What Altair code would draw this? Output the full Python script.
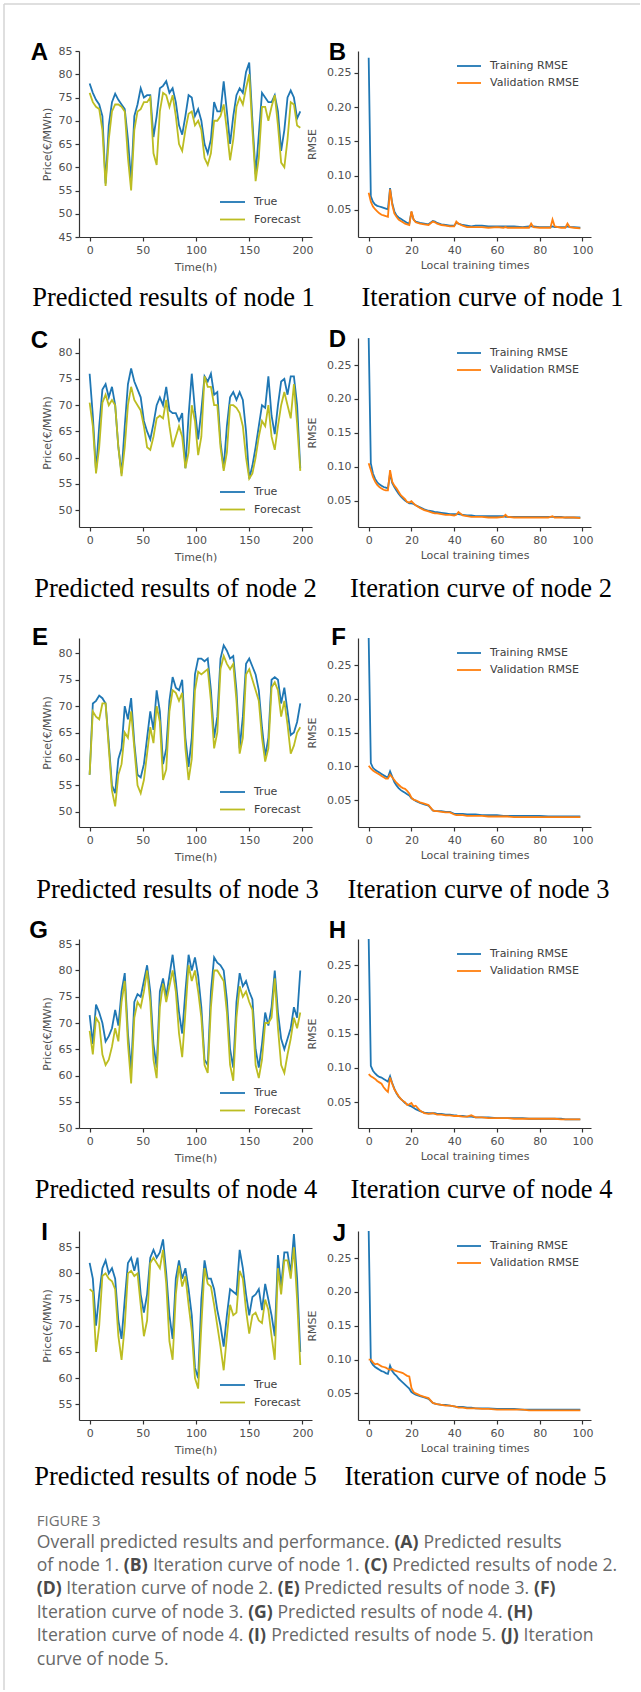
import altair as alt
import pandas as pd

# ---------------- data ----------------
HOURS = [0, 3, 6, 9, 12, 15, 18, 21, 24, 27, 30, 33, 36, 39, 42, 45, 48, 51, 54, 57,
         60, 63, 66, 69, 72, 75, 78, 81, 84, 87, 90, 93, 96, 99, 102, 105, 108, 111, 114, 117,
         120, 123, 126, 129, 132, 135, 138, 141, 144, 147, 150, 153, 156, 159, 162, 165, 168, 171, 174, 177,
         180, 183, 186, 189, 192, 195, 198]

A_TRUE = [78, 76, 74.5, 73.5, 71, 56.5, 69, 74, 75.8, 74.5,
          73.5, 72.5, 66, 57, 71, 73.5, 77, 75, 75.5, 75.5,
          66.5, 71, 77, 77.5, 78.5, 76, 77, 74, 69, 67,
          71, 75.5, 75, 71, 72.5, 70, 65, 63, 66, 74,
          72, 72, 78.5, 72, 65, 71, 75.5, 77, 76, 80.5,
          82.5, 70, 58.5, 67, 76, 75, 74, 74, 75.5, 72,
          63.5, 68, 75, 76.5, 75, 70.5, 72]
A_FC = [76, 74, 73, 72.5, 68, 56, 66, 72, 73.5, 73.5,
        73, 72, 62, 55, 68, 72, 72.5, 74, 74, 75,
        63, 60.5, 72, 76, 75.5, 73, 75.5, 71, 65, 63.5,
        68, 71.5, 72, 69, 70, 68, 62, 60.5, 63, 70,
        70, 71, 73.5, 68, 61.5, 66, 73, 75, 73.5, 77,
        80, 68, 57, 62, 73, 73, 70, 73, 75.5, 69,
        61, 60, 66, 74, 73.5, 69, 68.5]

C_TRUE = [76, 68, 57.5, 66, 73, 74, 71.5, 73.5, 70, 62,
          57, 66, 74, 77, 74.5, 73, 71.5, 67, 65, 63.5,
          66.5, 70, 71.5, 70, 73.5, 69, 68.5, 68.5, 67, 68.5,
          58, 68, 76, 69, 63.5, 69, 75.5, 74.5, 76, 72,
          72.5, 63, 58, 66, 71.5, 72.5, 71, 72.5, 71, 65,
          56, 58.5, 62, 66, 70, 69.5, 75.5, 68, 64.5, 70,
          74.5, 75, 72, 75.5, 75.5, 70, 58]
C_FC = [70.5, 66, 57, 62, 70.5, 72, 70, 71, 70, 62,
        56.5, 62, 70, 73.5, 71, 70, 69, 66, 62, 61.5,
        64, 67.5, 68, 67.5, 71, 66, 62, 64, 66, 64,
        58, 61, 70, 67, 60.5, 64, 75.5, 73.5, 73.5, 70,
        70, 62, 57.5, 61, 70, 70, 69.5, 68.5, 66, 60,
        56, 57, 60, 64, 67, 66, 70, 64, 61.5, 66,
        70, 72.5, 70, 67.5, 74, 66.5, 57.5]

E_TRUE = [57, 70.5, 71, 72, 71.5, 70.5, 63, 55, 53.5, 60,
          62, 70, 67.5, 71.5, 63, 57, 56.5, 59, 64, 69,
          65.5, 73, 69, 59, 62, 71, 75.5, 73.5, 73, 75,
          64, 58.5, 64, 76, 79, 79, 78.5, 79, 73, 64,
          68, 79, 81.5, 80.5, 79, 79.5, 73, 62, 68, 78,
          79, 77.5, 76, 73, 66, 60.5, 64, 75, 75.5, 75,
          70.5, 73.5, 69, 64.5, 65, 67, 70.5]
E_FC = [57, 69, 68, 67.5, 70.5, 70.5, 62, 54, 51, 57,
        59, 65, 64, 69, 62, 55, 53.5, 56, 61, 66,
        63, 70, 67, 56, 58, 69, 73, 72.5, 71, 72.5,
        62, 56, 60, 73, 76.5, 76, 76.5, 77, 71, 62,
        65, 77, 79.5, 78, 77, 78, 71, 61, 64, 76,
        77, 75, 73, 71, 64, 59.5, 62, 73.5, 74.5, 73,
        68, 71, 66.5, 61, 62.5, 65, 66]

G_TRUE = [71.5, 66, 73.5, 72, 70, 66.5, 67.5, 69, 72.5, 69.5,
          76, 79.5, 68, 61, 74, 75.5, 75, 78, 81, 76,
          66, 61.5, 76, 78.5, 75, 79, 83, 78, 72, 68,
          76, 83, 80, 82.5, 79, 73, 63, 62, 76, 82.5,
          81.5, 81, 80, 74.5, 65, 61.5, 74, 79.5, 77, 78,
          76, 74.5, 65, 61.5, 66, 72, 69.5, 73, 80, 72,
          67, 65, 67, 69, 73, 71, 80]
G_FC = [68.5, 64, 71, 70, 64, 62, 63, 65.5, 69, 66.5,
        74, 78, 66, 58.5, 71, 74, 73, 76, 80, 74,
        63, 59.5, 73, 77.5, 74, 77, 80, 76, 68, 63.5,
        72, 81, 78, 80, 76, 71, 62, 60.5, 73, 80,
        80, 79, 78, 72, 62, 59, 71, 77, 75, 76,
        74, 72.5, 62, 59.5, 63, 70, 70, 71, 78.5, 69,
        62, 60.5, 64, 67, 71, 69, 72]

I_TRUE = [82, 79, 70, 76, 81, 82.5, 80, 81, 79, 71,
          67.5, 75, 82, 83, 80.5, 83, 76, 72.5, 76, 83,
          84.5, 83, 84, 86.5, 80, 72, 67.5, 79, 82.5, 79,
          81, 77, 72, 62, 60, 75, 82.5, 79, 79, 77,
          73, 70, 66, 72, 77, 76.5, 76, 84.5, 81, 76,
          72, 75.5, 76, 77, 73, 78, 75, 72, 68, 83.5,
          77.5, 84, 84, 80, 87.5, 79, 65]
I_FC = [77, 76.5, 65, 70, 79.5, 80, 79, 78.5, 77, 68,
        63.5, 70, 80, 80.5, 79.5, 80, 74, 68, 71, 82,
        83, 82, 81, 84.5, 78, 67, 63.5, 76, 81.5, 77.5,
        79.5, 74, 69, 60, 58, 70, 81, 78, 77.5, 74,
        70, 66, 61.5, 68, 74, 72, 72.5, 80.5, 79, 73,
        68.5, 72, 72.5, 71, 70.5, 75, 73, 68, 63.5, 81,
        76, 82.5, 82.5, 79, 85, 75, 62.5]

EPOCHS = [0, 1, 2, 3, 4, 5, 6, 7, 8, 9, 10, 11, 12, 13, 14, 15, 16, 17, 18, 19, 20, 21, 22,
          24, 26, 28, 30, 31, 32, 34, 36, 38, 40, 41, 42, 44, 46, 48, 50, 53, 56,
          60, 63, 64, 65, 68, 72, 75, 76, 77, 80, 84, 85, 86, 87, 90, 92, 93, 94, 96, 99]

B_TRAIN = [0.272, 0.070, 0.062, 0.058, 0.056, 0.055, 0.054, 0.053, 0.052, 0.051,
           0.082, 0.060, 0.048, 0.042, 0.039, 0.037, 0.035, 0.033, 0.031, 0.030,
           0.047, 0.036, 0.033, 0.031, 0.030, 0.029, 0.034, 0.033, 0.031, 0.029, 0.028, 0.027,
           0.027, 0.031, 0.030, 0.028, 0.027, 0.026, 0.027, 0.027, 0.026,
           0.026, 0.026, 0.026, 0.026, 0.026, 0.025, 0.026, 0.026, 0.026,
           0.025, 0.025, 0.025, 0.026, 0.025, 0.025, 0.025, 0.026, 0.025, 0.025, 0.024]
B_VAL = [0.075, 0.062, 0.055, 0.051, 0.048, 0.045, 0.043, 0.042, 0.041, 0.040,
         0.080, 0.058, 0.045, 0.040, 0.036, 0.034, 0.032, 0.030, 0.029, 0.028,
         0.048, 0.036, 0.032, 0.030, 0.029, 0.028, 0.033, 0.032, 0.030, 0.028, 0.027, 0.026,
         0.026, 0.033, 0.030, 0.027, 0.025, 0.025, 0.025, 0.025, 0.024,
         0.025, 0.024, 0.025, 0.024, 0.024, 0.024, 0.024, 0.030, 0.025,
         0.024, 0.024, 0.024, 0.036, 0.026, 0.024, 0.024, 0.030, 0.025, 0.024, 0.023]

D_TRAIN = [0.290, 0.105, 0.090, 0.082, 0.077, 0.074, 0.072, 0.070, 0.069, 0.068,
           0.090, 0.076, 0.070, 0.065, 0.060, 0.056, 0.053, 0.050, 0.048, 0.046,
           0.046, 0.045, 0.043, 0.040, 0.037, 0.035, 0.034, 0.033, 0.033, 0.032, 0.031, 0.030,
           0.030, 0.030, 0.030, 0.029, 0.028, 0.028, 0.027, 0.027, 0.027,
           0.027, 0.027, 0.026, 0.026, 0.026, 0.026, 0.026, 0.026, 0.026,
           0.026, 0.026, 0.026, 0.026, 0.026, 0.026, 0.025, 0.025, 0.025, 0.025, 0.025]
D_VAL = [0.105, 0.095, 0.085, 0.078, 0.073, 0.070, 0.068, 0.066, 0.065, 0.065,
         0.095, 0.078, 0.072, 0.068, 0.063, 0.058, 0.055, 0.052, 0.048, 0.047,
         0.049, 0.046, 0.043, 0.039, 0.036, 0.034, 0.032, 0.031, 0.031, 0.030, 0.029, 0.029,
         0.028, 0.029, 0.033, 0.028, 0.027, 0.026, 0.026, 0.026, 0.025,
         0.025, 0.026, 0.029, 0.026, 0.025, 0.025, 0.025, 0.025, 0.025,
         0.025, 0.025, 0.026, 0.027, 0.025, 0.025, 0.025, 0.025, 0.025, 0.025, 0.024]

F_TRAIN = [0.290, 0.105, 0.098, 0.095, 0.093, 0.091, 0.089, 0.087, 0.085, 0.084,
           0.093, 0.085, 0.077, 0.072, 0.068, 0.065, 0.063, 0.061, 0.059, 0.057,
           0.053, 0.051, 0.049, 0.046, 0.044, 0.042, 0.035, 0.034, 0.034, 0.034, 0.033, 0.033,
           0.030, 0.030, 0.030, 0.030, 0.029, 0.029, 0.029, 0.028, 0.028,
           0.028, 0.027, 0.027, 0.027, 0.027, 0.027, 0.027, 0.027, 0.027,
           0.027, 0.026, 0.026, 0.026, 0.026, 0.026, 0.026, 0.026, 0.026, 0.026, 0.026]
F_VAL = [0.101, 0.097, 0.094, 0.092, 0.090, 0.088, 0.086, 0.084, 0.082, 0.082,
         0.088, 0.084, 0.080, 0.076, 0.073, 0.070, 0.068, 0.067, 0.064, 0.060,
         0.054, 0.051, 0.050, 0.047, 0.045, 0.043, 0.035, 0.034, 0.034, 0.033, 0.032, 0.032,
         0.029, 0.028, 0.028, 0.028, 0.027, 0.027, 0.027, 0.027, 0.026,
         0.026, 0.026, 0.026, 0.026, 0.025, 0.025, 0.025, 0.025, 0.025,
         0.025, 0.025, 0.025, 0.025, 0.025, 0.025, 0.025, 0.025, 0.025, 0.025, 0.025]

H_TRAIN = [0.288, 0.103, 0.096, 0.092, 0.089, 0.087, 0.086, 0.084, 0.082, 0.080,
           0.088, 0.078, 0.070, 0.063, 0.058, 0.055, 0.052, 0.049, 0.047, 0.045,
           0.044, 0.042, 0.040, 0.037, 0.035, 0.034, 0.034, 0.034, 0.033, 0.033, 0.032, 0.032,
           0.031, 0.031, 0.030, 0.030, 0.029, 0.029, 0.028, 0.028, 0.028,
           0.027, 0.027, 0.027, 0.027, 0.027, 0.027, 0.026, 0.026, 0.026,
           0.026, 0.026, 0.026, 0.026, 0.026, 0.026, 0.025, 0.025, 0.025, 0.025, 0.025]
H_VAL = [0.091, 0.088, 0.086, 0.084, 0.081, 0.079, 0.077, 0.072, 0.068, 0.065,
         0.086, 0.077, 0.069, 0.064, 0.059, 0.055, 0.052, 0.050, 0.046, 0.047,
         0.049, 0.044, 0.045, 0.038, 0.034, 0.033, 0.034, 0.033, 0.032, 0.032, 0.031, 0.031,
         0.030, 0.030, 0.030, 0.029, 0.029, 0.031, 0.028, 0.028, 0.027,
         0.027, 0.027, 0.027, 0.027, 0.026, 0.026, 0.026, 0.026, 0.026,
         0.026, 0.026, 0.026, 0.026, 0.026, 0.025, 0.025, 0.025, 0.025, 0.025, 0.025]

J_TRAIN = [0.290, 0.097, 0.092, 0.089, 0.087, 0.085, 0.083, 0.082, 0.080, 0.079,
           0.091, 0.083, 0.079, 0.076, 0.072, 0.069, 0.066, 0.063, 0.060, 0.057,
           0.052, 0.050, 0.048, 0.046, 0.044, 0.042, 0.036, 0.035, 0.034, 0.033, 0.033, 0.032,
           0.031, 0.030, 0.030, 0.030, 0.029, 0.029, 0.028, 0.028, 0.028,
           0.027, 0.027, 0.027, 0.027, 0.027, 0.026, 0.026, 0.026, 0.026,
           0.026, 0.026, 0.026, 0.026, 0.026, 0.026, 0.026, 0.026, 0.026, 0.026, 0.026]
J_VAL = [0.100, 0.100, 0.096, 0.093, 0.094, 0.092, 0.090, 0.089, 0.088, 0.086,
         0.085, 0.086, 0.084, 0.083, 0.082, 0.081, 0.080, 0.078, 0.076, 0.075,
         0.058, 0.052, 0.050, 0.047, 0.045, 0.043, 0.036, 0.035, 0.034, 0.033, 0.032, 0.032,
         0.031, 0.030, 0.029, 0.029, 0.028, 0.028, 0.028, 0.027, 0.027,
         0.026, 0.026, 0.026, 0.026, 0.026, 0.026, 0.025, 0.025, 0.025,
         0.025, 0.025, 0.025, 0.025, 0.025, 0.025, 0.025, 0.025, 0.025, 0.025, 0.025]

PRICE_TICKS = [[45, 50, 55, 60, 65, 70, 75, 80, 85],
               [50, 55, 60, 65, 70, 75, 80],
               [50, 55, 60, 65, 70, 75, 80],
               [50, 55, 60, 65, 70, 75, 80, 85],
               [55, 60, 65, 70, 75, 80, 85]]
PRICE_DOMAINS = [[45, 85], [46.8, 82.8], [47.1, 82.9], [50, 86], [52, 88.1]]
RMSE_DOMAINS = [[0.0105, 0.282], [0.011, 0.29], [0.0105, 0.29], [0.0125, 0.288], [0.0107, 0.29]]
RMSE_TICKS = [0.05, 0.10, 0.15, 0.20, 0.25]
TIME_TICKS = [0, 50, 100, 150, 200]
EPOCH_TICKS = [0, 20, 40, 60, 80, 100]

LEFT_LETTERS = ["A", "C", "E", "G", "I"]
RIGHT_LETTERS = ["B", "D", "F", "H", "J"]
LEFT_CAPTIONS = ["Predicted results of node 1", "Predicted results of node 2",
                 "Predicted results of node 3", "Predicted results of node 4",
                 "Predicted results of node 5"]
RIGHT_CAPTIONS = ["Iteration curve of node 1", "Iteration curve of node 2",
                  "Iteration curve of node 3", "Iteration curve of node 4",
                  "Iteration curve of node 5"]

CAPTION_TITLE = "FIGURE 3"
# (text, bold?) segments of each caption line
CAPTION_LINES = [
    [("Overall predicted results and performance.", False), ("(A)", True), ("Predicted results", False)],
    [("of node 1.", False), ("(B)", True), ("Iteration curve of node 1.", False),
     ("(C)", True), ("Predicted results of node 2.", False)],
    [("(D)", True), ("Iteration curve of node 2.", False), ("(E)", True),
     ("Predicted results of node 3.", False), ("(F)", True)],
    [("Iteration curve of node 3.", False), ("(G)", True),
     ("Predicted results of node 4.", False), ("(H)", True)],
    [("Iteration curve of node 4.", False), ("(I)", True),
     ("Predicted results of node 5.", False), ("(J)", True), ("Iteration", False)],
    [("curve of node 5.", False)],
]

# ---------------- layout / style ----------------
BLUE = "#1f77b4"
OLIVE = "#bcbd22"
ORANGE = "#ff7f0e"
AX_FONT = "DejaVu Sans"
AX_COLOR = "#333333"
LAB_COLOR = "#505050"
LINE_W = 1.8

LEFT_X0 = 79
LEFT_W = 233
MID_W = 46
RIGHT_X0 = LEFT_X0 + LEFT_W + MID_W  # 358
RIGHT_W = 233
ROW_TOPS = [51, 338, 638, 939, 1231]
ROW_H = [186, 189, 189, 189, 189]
LEFT_LETTER_Y = [60, 348, 645, 938, 1240]
RIGHT_LETTER_Y = [60, 347, 645, 938, 1241]
LEFT_CAP_X = [173.5, 175.5, 177.5, 176, 175.5]
RIGHT_CAP_X = [492.5, 481, 478.5, 481.5, 475.5]
CAP_Y = [306, 597, 898, 1198, 1485]
CAPTION_LINE_Y = [1543, 1566, 1589, 1612.5, 1636, 1660]
CAPTION_X0 = 36.7
CAPTION_SIZE = 17.6

# approximate Open Sans advance widths (em) for laying out caption segments
OS_REG = {" ": 0.26, ".": 0.266, "(": 0.296, ")": 0.296, "1": 0.572, "2": 0.572, "3": 0.572,
          "4": 0.572, "5": 0.572, "O": 0.779, "P": 0.603, "I": 0.279,
          "a": 0.556, "c": 0.476, "d": 0.613, "e": 0.561, "f": 0.339, "i": 0.253, "l": 0.253,
          "m": 0.930, "n": 0.614, "o": 0.604, "p": 0.613, "r": 0.408, "s": 0.477, "t": 0.353,
          "u": 0.614, "v": 0.501}
OS_BOLD = {"(": 0.339, ")": 0.339, "A": 0.711, "B": 0.712, "C": 0.642, "D": 0.748, "E": 0.556,
           "F": 0.537, "G": 0.731, "H": 0.779, "I": 0.371, "J": 0.343}


def text_width(s, bold):
    table = OS_BOLD if bold else OS_REG
    return sum(table.get(ch, OS_REG.get(ch, 0.55)) for ch in s) * CAPTION_SIZE


dummy = pd.DataFrame({"d": [0]})


def txt(text, x, y, size, font, color="#000000", weight="normal", align="left", baseline="alphabetic"):
    return alt.Chart(dummy).mark_text(
        text=text, font=font, fontSize=size, color=color, fontWeight=weight,
        align=align, baseline=baseline,
    ).encode(x=alt.value(x), y=alt.value(y))


def hrule(x1, x2, y, color, width=LINE_W):
    return alt.Chart(dummy).mark_rule(color=color, strokeWidth=width).encode(
        x=alt.value(x1), x2=alt.value(x2), y=alt.value(y))


def vrule(x, y1, y2, color, width=LINE_W):
    return alt.Chart(dummy).mark_rule(color=color, strokeWidth=width).encode(
        x=alt.value(x), y=alt.value(y1), y2=alt.value(y2))


def spacer(w, h, extra=None):
    base = alt.Chart(dummy).mark_rule(opacity=0).encode(x=alt.value(w / 2.0))
    if extra:
        return alt.layer(base, *extra).properties(width=w, height=h)
    return base.properties(width=w, height=h)


def x_axis(values, title, w, fmt, ty):
    return alt.Axis(values=values, title=title, format=fmt, grid=False,
                    labelFont=AX_FONT, labelFontSize=11, labelColor=LAB_COLOR, labelPadding=3,
                    labelFlush=False, labelOverlap=False,
                    tickSize=4, tickColor=AX_COLOR, tickWidth=1.2,
                    domainColor=AX_COLOR, domainWidth=1.2,
                    titleFont=AX_FONT, titleFontSize=11, titleFontWeight="normal", titleColor=LAB_COLOR,
                    titleX=w / 2.0, titleY=ty, titleAlign="center", titleBaseline="middle")


def y_axis(values, title, h, fmt, tx):
    return alt.Axis(values=values, title=title, format=fmt, grid=False,
                    labelFont=AX_FONT, labelFontSize=11, labelColor=LAB_COLOR, labelPadding=3,
                    labelFlush=False, labelOverlap=False,
                    tickSize=4, tickColor=AX_COLOR, tickWidth=1.2,
                    domainColor=AX_COLOR, domainWidth=1.2,
                    titleFont=AX_FONT, titleFontSize=11, titleFontWeight="normal", titleColor=LAB_COLOR,
                    titleX=tx, titleY=h / 2.0, titleAngle=270, titleAlign="center", titleBaseline="middle")


def line(xv, yv, color, xs, ys, xa, ya):
    df = pd.DataFrame({"x": xv, "y": yv})
    return alt.Chart(df).mark_line(color=color, strokeWidth=LINE_W, clip=True).encode(
        x=alt.X("x:Q", scale=xs, axis=xa), y=alt.Y("y:Q", scale=ys, axis=ya))


def price_panel(r, true_v, fc_v):
    h = ROW_H[r]
    top = ROW_TOPS[r]
    xs = alt.Scale(domain=[-10, 209], nice=False, zero=False)
    ys = alt.Scale(domain=PRICE_DOMAINS[r], nice=False, zero=False)
    xa = x_axis(TIME_TICKS, "Time(h)", LEFT_W, "d", 30)
    ya = y_axis(PRICE_TICKS[r], "Price(€/MWh)", h, "d", 47 - LEFT_X0)
    layers = [
        line(HOURS, true_v, BLUE, xs, ys, xa, ya),
        line(HOURS, fc_v, OLIVE, xs, ys, xa, ya),
        hrule(220 - LEFT_X0, 245 - LEFT_X0, h - 35, BLUE),
        hrule(220 - LEFT_X0, 245 - LEFT_X0, h - 17.5, OLIVE),
        txt("True", 254 - LEFT_X0, h - 35, 11, AX_FONT, "#404040", baseline="middle"),
        txt("Forecast", 254 - LEFT_X0, h - 17.5, 11, AX_FONT, "#404040", baseline="middle"),
        txt(LEFT_LETTERS[r], 48 - LEFT_X0, LEFT_LETTER_Y[r] - top, 24, "Liberation Sans",
            weight="bold", align="right"),
        txt(LEFT_CAPTIONS[r], LEFT_CAP_X[r] - LEFT_X0, CAP_Y[r] - top, 26.5, "Liberation Serif",
            align="center"),
    ]
    return alt.layer(*layers).properties(width=LEFT_W, height=h)


def rmse_panel(r, train_v, val_v):
    h = ROW_H[r]
    top = ROW_TOPS[r]
    xs = alt.Scale(domain=[-5, 104], nice=False, zero=False)
    ys = alt.Scale(domain=RMSE_DOMAINS[r], nice=False, zero=False)
    xa = x_axis(EPOCH_TICKS, "Local training times", RIGHT_W, "d", 28)
    ya = y_axis(RMSE_TICKS, "RMSE", h, ".2f", 312 - RIGHT_X0)
    layers = [
        line(EPOCHS, train_v, BLUE, xs, ys, xa, ya),
        line(EPOCHS, val_v, ORANGE, xs, ys, xa, ya),
        hrule(457 - RIGHT_X0, 481 - RIGHT_X0, 15, BLUE),
        hrule(457 - RIGHT_X0, 481 - RIGHT_X0, 32, ORANGE),
        txt("Training RMSE", 490 - RIGHT_X0, 15, 11, AX_FONT, "#404040", baseline="middle"),
        txt("Validation RMSE", 490 - RIGHT_X0, 32, 11, AX_FONT, "#404040", baseline="middle"),
        txt(RIGHT_LETTERS[r], 346 - RIGHT_X0, RIGHT_LETTER_Y[r] - top, 24, "Liberation Sans",
            weight="bold", align="right"),
        txt(RIGHT_CAPTIONS[r], RIGHT_CAP_X[r] - RIGHT_X0, CAP_Y[r] - top, 26.5, "Liberation Serif",
            align="center"),
    ]
    return alt.layer(*layers).properties(width=RIGHT_W, height=h)


PRICE_SERIES = [(A_TRUE, A_FC), (C_TRUE, C_FC), (E_TRUE, E_FC), (G_TRUE, G_FC), (I_TRUE, I_FC)]
RMSE_SERIES = [(B_TRAIN, B_VAL), (D_TRAIN, D_VAL), (F_TRAIN, F_VAL), (H_TRAIN, H_VAL), (J_TRAIN, J_VAL)]

BORDER = "#d4d4d4"
items = []
# top spacer row (carries the page border)
items += [spacer(LEFT_X0, ROW_TOPS[0], [vrule(4, 4, 1690, BORDER, 1.5), hrule(4, 640, 4, BORDER, 1.5)]),
          spacer(1, 1), spacer(1, 1), spacer(1, 1)]
for r in range(5):
    h = ROW_H[r]
    items += [spacer(LEFT_X0, h), price_panel(r, *PRICE_SERIES[r]),
              spacer(MID_W, h), rmse_panel(r, *RMSE_SERIES[r])]
    if r < 4:
        gap = ROW_TOPS[r + 1] - (ROW_TOPS[r] + h)
        items += [spacer(1, gap), spacer(1, 1), spacer(1, 1), spacer(1, 1)]

# figure caption, positioned relative to bottom of last row
cap_origin = ROW_TOPS[4] + ROW_H[4]
cap_layers = [txt(CAPTION_TITLE, CAPTION_X0, 1521 - cap_origin, 15, "Open Sans", "#707070",
                  baseline="middle")]
space_w = OS_REG[" "] * CAPTION_SIZE
for li, segs in enumerate(CAPTION_LINES):
    x = CAPTION_X0
    for (s, bold) in segs:
        cap_layers.append(txt(s, x, CAPTION_LINE_Y[li] - cap_origin, CAPTION_SIZE, "Open Sans",
                              "#4a4a4a" if bold else "#686868",
                              weight="bold" if bold else "normal", baseline="middle"))
        x += text_width(s, bold) + space_w
items.append(spacer(1, 1, cap_layers))

chart = alt.concat(*items, columns=4, spacing=0, bounds="flush", align="each").properties(
    padding=0, background="white"
).configure_view(stroke=None)

chart.save("out.html", embed_options={"renderer": "svg", "actions": False})
